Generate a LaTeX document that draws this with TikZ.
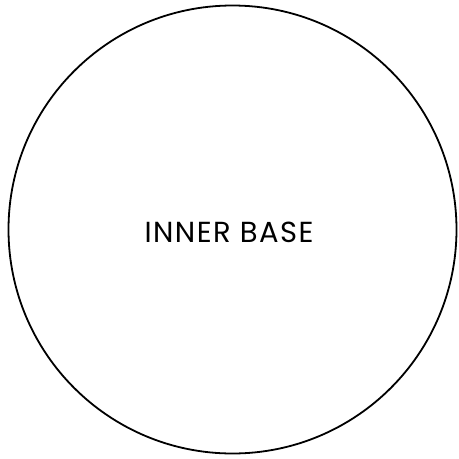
\documentclass[tikz,border=0pt]{standalone}
\usepackage{fontspec}
\setmainfont{Poppins}
\begin{document}
\begin{tikzpicture}[x=1pt,y=-1pt,
  basecircle/.style={draw=black,line width=1.8pt,circle,minimum size=448pt,inner sep=0pt}]
\useasboundingbox (0,0) rectangle (459,459);
\node[basecircle] (c) at (232.5,229.5) {};
\node[font=\fontsize{29}{32}\selectfont\addfontfeature{LetterSpace=5}] (t) at (229,232) {INNER BASE};
\end{tikzpicture}
\end{document}
